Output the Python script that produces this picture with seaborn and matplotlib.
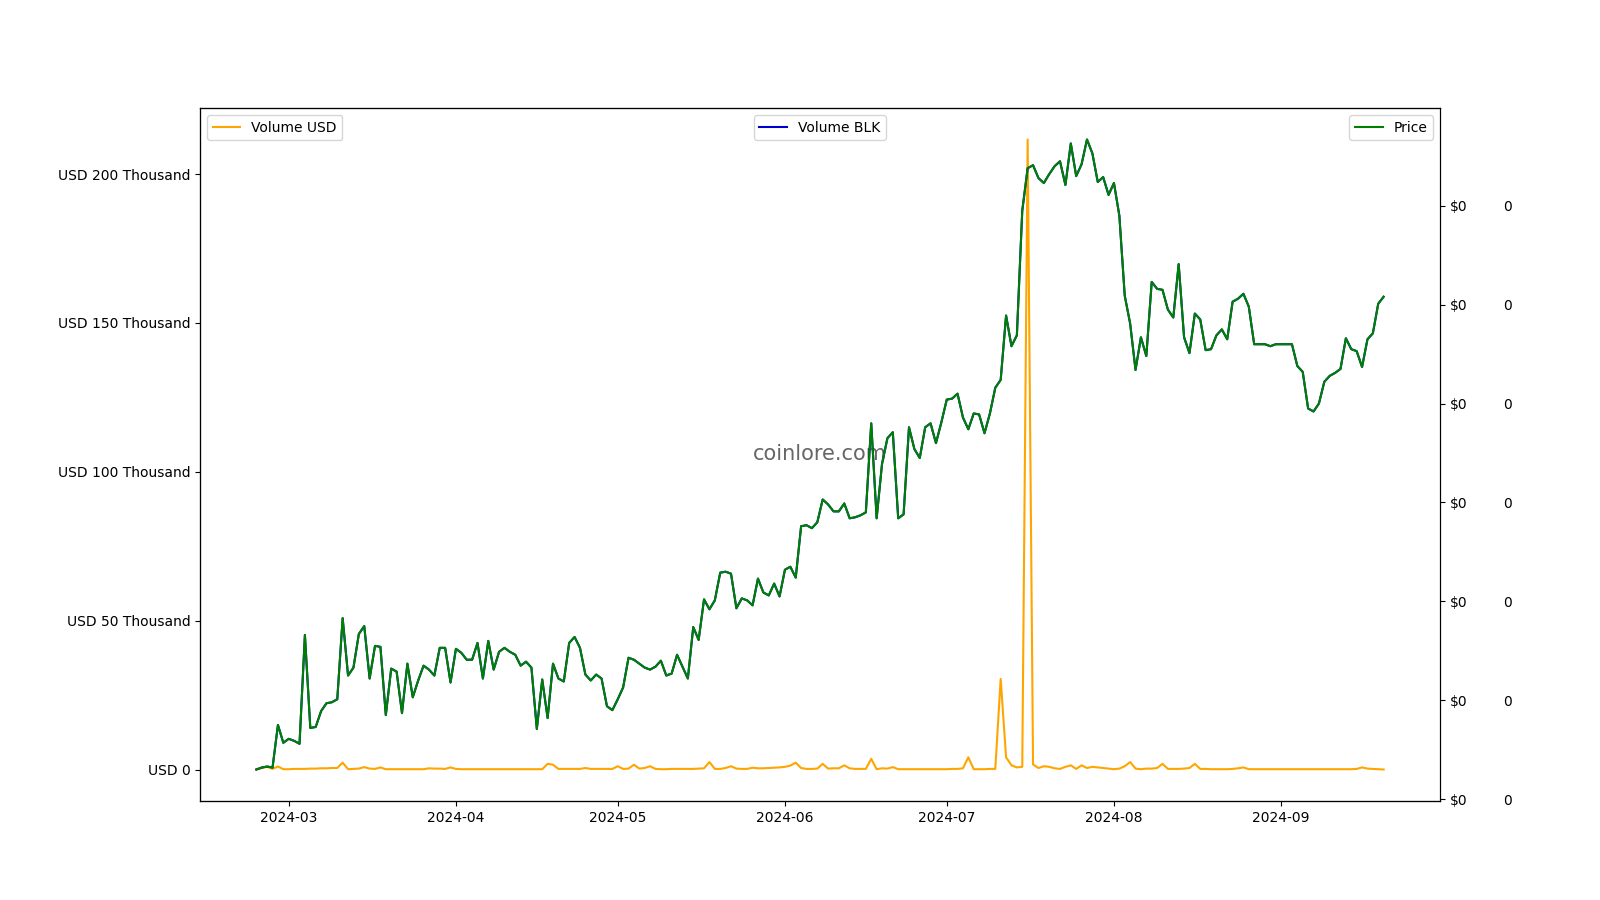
import numpy as np
import pandas as pd
import matplotlib
matplotlib.use("Agg")
import matplotlib.pyplot as plt
import matplotlib.ticker as mticker
import seaborn as sns

# ---- data (daily, 2024-02-24 .. 2024-09-20) ----
start_date = "2024-02-24"
n_days = 210

# Price in micro-USD (1e-6 $)
price_micro_usd = [
    1.30, 1.32, 1.33, 1.32, 1.75, 1.57, 1.61, 1.59, 1.56, 2.66,
    1.72, 1.73, 1.89, 1.97, 1.98, 2.01, 2.83, 2.25, 2.33, 2.67,
    2.75, 2.22, 2.55, 2.54, 1.85, 2.32, 2.29, 1.87, 2.37, 2.03,
    2.20, 2.35, 2.31, 2.25, 2.53, 2.53, 2.18, 2.52, 2.48, 2.41,
    2.41, 2.58, 2.22, 2.60, 2.31, 2.49, 2.53, 2.49, 2.46, 2.35,
    2.39, 2.33, 1.71, 2.21, 1.82, 2.37, 2.22, 2.19, 2.58, 2.64,
    2.53, 2.26, 2.20, 2.26, 2.22, 1.94, 1.90, 2.01, 2.13, 2.43,
    2.41, 2.37, 2.33, 2.31, 2.34, 2.40, 2.25, 2.27, 2.46, 2.34,
    2.22, 2.74, 2.61, 3.02, 2.92, 3.01, 3.29, 3.30, 3.28, 2.93,
    3.03, 3.01, 2.96, 3.23, 3.09, 3.06, 3.18, 3.05, 3.32, 3.35,
    3.24, 3.76, 3.77, 3.74, 3.80, 4.03, 3.98, 3.91, 3.91, 3.99,
    3.84, 3.85, 3.87, 3.90, 4.80, 3.84, 4.39, 4.65, 4.71, 3.84,
    3.88, 4.76, 4.54, 4.45, 4.76, 4.80, 4.60, 4.81, 5.04, 5.05,
    5.10, 4.86, 4.74, 4.90, 4.89, 4.70, 4.90, 5.16, 5.24, 5.89,
    5.58, 5.69, 6.95, 7.38, 7.41, 7.28, 7.23, 7.32, 7.40, 7.45,
    7.21, 7.63, 7.30, 7.42, 7.67, 7.53, 7.24, 7.29, 7.11, 7.23,
    6.90, 6.09, 5.81, 5.34, 5.67, 5.48, 6.23, 6.16, 6.15, 5.95,
    5.87, 6.41, 5.67, 5.51, 5.91, 5.85, 5.54, 5.55, 5.69, 5.75,
    5.65, 6.03, 6.06, 6.11, 5.98, 5.60, 5.60, 5.60, 5.58, 5.60,
    5.60, 5.60, 5.60, 5.38, 5.32, 4.95, 4.92, 5.00, 5.22, 5.28,
    5.31, 5.35, 5.66, 5.55, 5.53, 5.37, 5.65, 5.71, 6.01, 6.08,
]

# Volume in thousand USD
volume_usd_k = [
    0.1, 0.6, 1.0, 0.3, 1.1, 0.2, 0.2, 0.3, 0.3, 0.3,
    0.4, 0.4, 0.5, 0.5, 0.6, 0.6, 2.4, 0.2, 0.3, 0.4,
    0.9, 0.4, 0.3, 0.8, 0.2, 0.2, 0.2, 0.2, 0.2, 0.2,
    0.2, 0.2, 0.5, 0.4, 0.4, 0.3, 0.8, 0.3, 0.2, 0.2,
    0.2, 0.2, 0.2, 0.2, 0.2, 0.2, 0.2, 0.2, 0.2, 0.2,
    0.2, 0.2, 0.2, 0.2, 2.0, 1.7, 0.3, 0.3, 0.3, 0.3,
    0.3, 0.6, 0.3, 0.3, 0.3, 0.3, 0.3, 1.2, 0.3, 0.4,
    1.7, 0.4, 0.6, 1.2, 0.3, 0.2, 0.2, 0.3, 0.3, 0.3,
    0.3, 0.3, 0.4, 0.5, 2.6, 0.3, 0.3, 0.6, 1.2, 0.4,
    0.3, 0.3, 0.7, 0.5, 0.5, 0.6, 0.7, 0.8, 1.0, 1.4,
    2.4, 0.6, 0.3, 0.3, 0.4, 2.0, 0.4, 0.5, 0.5, 1.5,
    0.5, 0.3, 0.3, 0.3, 3.7, 0.2, 0.5, 0.4, 0.9, 0.2,
    0.2, 0.2, 0.2, 0.2, 0.2, 0.2, 0.2, 0.2, 0.2, 0.3,
    0.3, 0.5, 4.2, 0.2, 0.2, 0.2, 0.3, 0.3, 30.5, 4.2,
    1.5, 0.8, 1.0, 211.6, 1.8, 0.6, 1.2, 1.0, 0.5, 0.3,
    1.0, 1.5, 0.3, 1.5, 0.6, 1.0, 0.8, 0.6, 0.4, 0.2,
    0.4, 1.2, 2.6, 0.4, 0.2, 0.4, 0.4, 0.6, 2.0, 0.3,
    0.3, 0.3, 0.4, 0.6, 2.0, 0.3, 0.3, 0.2, 0.2, 0.2,
    0.2, 0.3, 0.5, 0.8, 0.2, 0.2, 0.2, 0.2, 0.2, 0.2,
    0.2, 0.2, 0.2, 0.2, 0.2, 0.2, 0.2, 0.2, 0.2, 0.2,
    0.2, 0.2, 0.2, 0.2, 0.3, 0.8, 0.4, 0.3, 0.2, 0.1,
]

# Volume in BLK (hidden under the price line in the reference: same readings)
volume_blk_micro = list(price_micro_usd)

dates = pd.date_range(start_date, periods=n_days, freq="D")
df = pd.DataFrame({
    "date": dates,
    "volume_usd": np.array(volume_usd_k) * 1000.0,
    "volume_blk": np.array(volume_blk_micro) * 1e-6,
    "price": np.array(price_micro_usd) * 1e-6,
})

# ---- figure ----
fig = plt.figure(figsize=(16, 9), dpi=100)
ax1 = fig.add_subplot(111)
ax2 = ax1.twinx()
ax3 = ax1.twinx()

sns.lineplot(data=df, x="date", y="volume_usd", ax=ax1, color="orange",
             label="Volume USD", linewidth=1.5)
sns.lineplot(data=df, x="date", y="volume_blk", ax=ax2, color="mediumblue",
             label="Volume BLK", linewidth=1.5)
sns.lineplot(data=df, x="date", y="price", ax=ax3, color="green",
             label="Price", linewidth=1.5)

for ax in (ax1, ax2, ax3):
    ax.set_xlabel("")
    ax.set_ylabel("")

def usd_fmt(x, pos):
    if abs(x) < 1e-9:
        return "USD 0"
    return f"USD {x/1000:.0f} Thousand"

ax1.yaxis.set_major_formatter(mticker.FuncFormatter(usd_fmt))
ax3.yaxis.set_major_formatter(mticker.StrMethodFormatter("${x:,.0f}"))
ax2.yaxis.set_major_formatter(mticker.StrMethodFormatter("{x:,.0f}"))

ax2.spines["right"].set_position(("outward", 42))
ax2.spines["right"].set_visible(False)
ax2.tick_params(axis="y", length=0)

ax1.legend(loc="upper left")
ax2.legend(loc="upper center")
ax3.legend(loc="upper right")

ax1.text(0.5, 0.5, "coinlore.com", transform=ax1.transAxes, ha="center",
         va="center", fontsize=15, color="#555555", alpha=0.9, zorder=0)

fig.savefig("out.png", dpi=100)
